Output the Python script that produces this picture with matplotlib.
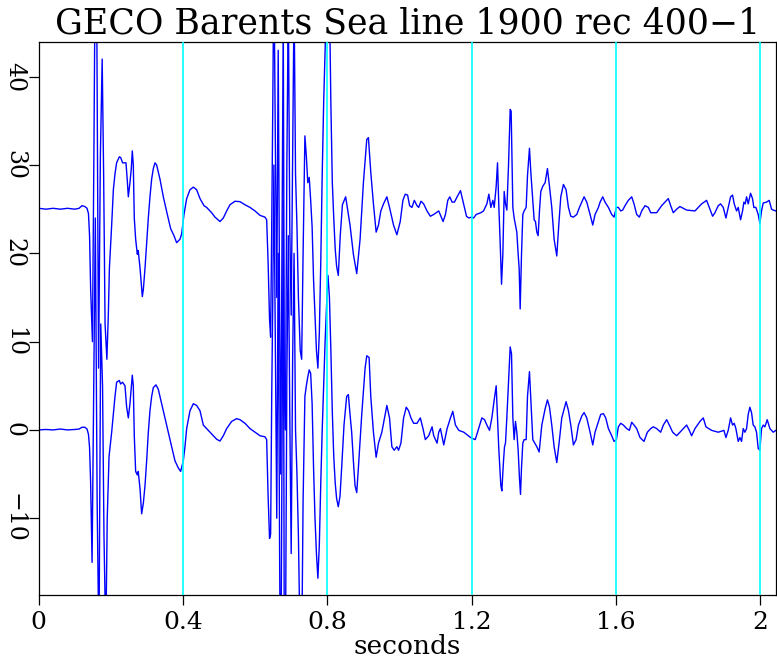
import numpy as np
import matplotlib

matplotlib.use("Agg")
import matplotlib.pyplot as plt

TITLE = "GECO Barents Sea line 1900 rec 400\u22121"
XLABEL = "seconds"
UPPER_SHIFT = 25.0

X_TICKS = [0.0, 0.4, 0.8, 1.2, 1.6, 2.0]
X_TICK_LABELS = ["0", "0.4", "0.8", "1.2", "1.6", "2"]
Y_TICKS = [-10, 0, 10, 20, 30, 40]
Y_TICK_LABELS = ["\u221210", "0", "10", "20", "30", "40"]
MARKER_TIMES = [0.4, 0.8, 1.2, 1.6, 2.0]

# upper trace (plotted shifted by UPPER_SHIFT)
t_upper = [
    0.000, 0.020, 0.040, 0.060, 0.080, 0.100, 0.112, 0.120, 0.128, 0.134,
    0.138, 0.141, 0.144, 0.149, 0.153, 0.157, 0.161, 0.166, 0.171, 0.176,
    0.180, 0.184, 0.189, 0.193, 0.196, 0.2023, 0.207, 0.2115, 0.216, 0.2235,
    0.2272, 0.2327, 0.242, 0.2457, 0.2485, 0.253, 0.2567, 0.2595, 0.2623, 0.265,
    0.2688, 0.2734, 0.276, 0.281, 0.2845, 0.2873, 0.2901, 0.2947, 0.2993, 0.3039,
    0.3085, 0.3131, 0.3178, 0.3224, 0.327, 0.3316, 0.3362, 0.3455, 0.3566, 0.3658,
    0.3751, 0.3824, 0.3917, 0.3963, 0.4028, 0.4102, 0.4194, 0.4287, 0.4379, 0.4472,
    0.4582, 0.4656, 0.4795, 0.4887, 0.5026, 0.5118, 0.5211, 0.5303, 0.5441, 0.558,
    0.5719, 0.5858, 0.5996, 0.6135, 0.6273, 0.632, 0.636, 0.640, 0.643, 0.646,
    0.649, 0.652, 0.656, 0.660, 0.664, 0.668, 0.671, 0.675, 0.678, 0.681,
    0.684, 0.688, 0.692, 0.696, 0.700, 0.704, 0.708, 0.712, 0.716, 0.720,
    0.725, 0.729, 0.733, 0.738, 0.742, 0.746, 0.750, 0.754, 0.758, 0.762,
    0.766, 0.770, 0.774, 0.778, 0.782, 0.786, 0.790, 0.794, 0.798, 0.802,
    0.806, 0.810, 0.814, 0.818, 0.822, 0.826, 0.8306, 0.836, 0.842, 0.851,
    0.8631, 0.8724, 0.8817, 0.891, 0.9002, 0.9095, 0.9141, 0.9206, 0.928, 0.9355,
    0.942, 0.9485, 0.9559, 0.9652, 0.9726, 0.9837, 0.993, 1.0023, 1.0097, 1.0162,
    1.0227, 1.0283, 1.0348, 1.0413, 1.0487, 1.0533, 1.0598, 1.0673, 1.0765, 1.0858,
    1.0951, 1.109, 1.1211, 1.1276, 1.1341, 1.1396, 1.1461, 1.1526, 1.16, 1.1693,
    1.1768, 1.186, 1.1925, 1.2, 1.2055, 1.2129, 1.2258, 1.2332, 1.2425, 1.248,
    1.2535, 1.2591, 1.2628, 1.2683, 1.272, 1.2757, 1.2794, 1.2831, 1.2868, 1.2905,
    1.2941, 1.2978, 1.3025, 1.3071, 1.3098, 1.3145, 1.3181, 1.3218, 1.3255, 1.3292,
    1.332, 1.3348, 1.3385, 1.3421, 1.3458, 1.3514, 1.3551, 1.3606, 1.3643, 1.3698,
    1.3735, 1.3772, 1.3809, 1.3846, 1.3883, 1.392, 1.3975, 1.404, 1.4104, 1.416,
    1.4224, 1.4289, 1.4363, 1.4418, 1.4474, 1.4547, 1.4621, 1.4686, 1.4751, 1.4824,
    1.4917, 1.4991, 1.5055, 1.512, 1.5194, 1.5286, 1.536, 1.5424, 1.5517, 1.5563,
    1.5637, 1.5701, 1.5794, 1.5886, 1.5951, 1.6015, 1.607, 1.6135, 1.619, 1.6255,
    1.6347, 1.644, 1.6504, 1.6578, 1.6652, 1.6717, 1.6809, 1.6901, 1.6966, 1.7132,
    1.727, 1.7455, 1.752, 1.7593, 1.7686, 1.7778, 1.7963, 1.8194, 1.8378, 1.8516,
    1.859, 1.8683, 1.8747, 1.8839, 1.8904, 1.8978, 1.9052, 1.9116, 1.9181, 1.9236,
    1.9282, 1.9347, 1.9393, 1.9458, 1.9513, 1.955, 1.9587, 1.9624, 1.967, 1.9735,
    1.9789, 1.9826, 1.9882, 1.9947, 1.9993, 2.0039, 2.0086, 2.0178, 2.0252, 2.0317,
    2.0363, 2.0437,
]
upper = [
    0.1, 0.0, 0.1, 0.0, 0.1, 0.0, 0.1, 0.4, 0.3, 0.1,
    -0.5, -3.0, -9.0, -15.0, 6.0, 30.0, 22.0, -18.0, 6.0, 17.0,
    4.0, -13.0, -17.0, -12.0, -6.7, -1.8, 2.2, 4.0, 5.25, 5.93,
    5.85, 5.25, 5.25, 3.2, 1.4, 3.0, 4.6, 6.6, 5.0, -1.0,
    -3.4, -5.1, -4.7, -6.7, -8.5, -9.9, -9.1, -6.7, -3.8, -1.0,
    1.4, 3.4, 4.6, 5.25, 5.0, 4.2, 3.4, 1.4, -0.6, -2.2,
    -3.0, -3.8, -3.4, -2.8, -0.6, 1.2, 2.2, 2.5, 2.2, 1.2,
    0.4, 0.2, -0.4, -0.9, -1.4, -1.0, -0.2, 0.5, 0.9, 0.85,
    0.5, 0.2, -0.2, -0.7, -0.9, -1.2, -6.0, -12.5, -14.5, -2.0,
    12.0, 28.0, 8.0, -10.0, 18.0, -12.0, -30.0, 0.0, 22.0, -20.0,
    -25.0, 5.0, 24.0, -1.8, -12.0, 6.0, 24.0, 4.0, -2.0, -10.0,
    -16.0, -17.0, -5.0, 8.3, 6.0, 3.0, 3.6, 1.0, -2.0, -8.0,
    -12.0, -16.0, -18.0, -14.0, -6.0, 4.0, 12.0, 18.0, 24.0, 30.0,
    24.0, 12.0, 3.0, -1.0, -4.5, -6.5, -7.5, -3.0, 0.5, 1.4,
    -1.8, -5.1, -7.3, -3.4, 3.0, 7.9, 8.1, 4.2, 0.6, -2.6,
    -1.8, -0.2, 0.6, 1.4, 0.2, -1.8, -2.9, -1.4, 1.0, 1.7,
    1.6, 0.4, 0.2, 1.0, 0.4, 0.2, 0.9, 0.6, -0.2, -0.8,
    -0.6, -0.2, -1.4, -0.6, 1.0, 1.4, 0.8, 0.8, 1.4, 2.1,
    0.8, -0.8, -1.0, -0.9, -1.0, -0.6, -0.4, -0.2, 0.6, 1.7,
    0.2, 1.0, 0.2, 2.6, 5.25, 0.2, -3.8, -8.5, -5.1, 2.0,
    0.6, -0.1, 5.0, 11.3, 11.1, 0.2, -1.0, -1.8, -2.6, -5.1,
    -6.7, -11.3, -5.1, -0.6, -0.2, 0.2, 3.8, 6.9, 4.2, 1.0,
    -1.2, -1.4, -2.6, -3.0, -0.2, 2.0, 2.6, 3.0, 4.6, 2.6,
    0.2, -3.4, -5.3, -1.8, 1.4, 2.8, 2.2, 0.2, -0.8, -0.9,
    -0.6, 0.2, 0.8, 1.4, 0.8, -0.6, -1.8, -0.6, 0.2, 0.8,
    1.4, 0.8, 0.2, -0.6, -0.9, 0.2, 0.2, -0.2, -0.1, 0.4,
    1.0, 1.4, 0.6, -0.6, -0.9, -0.2, 0.4, 0.2, -0.4, -0.4,
    0.4, 1.2, 0.4, -0.4, 0.0, 0.3, -0.1, -0.2, 0.6, 1.0,
    0.2, -0.8, -0.4, 0.4, 0.6, 0.2, -1.0, 0.2, 1.4, 1.6,
    0.6, -0.2, 0.2, -1.2, -0.2, 0.8, 0.6, 1.4, 0.6, 1.8,
    1.2, 0.2, 0.2, -0.6, -1.6, -0.2, 0.7, 0.8, 1.0, 0.0,
    -0.1, -0.2,
]

# lower trace
t_lower = [
    0.000, 0.020, 0.040, 0.060, 0.080, 0.100, 0.112, 0.120, 0.128, 0.134,
    0.138, 0.141, 0.144, 0.148, 0.153, 0.157, 0.162, 0.167, 0.172, 0.177,
    0.181, 0.186, 0.190, 0.195, 0.2023, 0.207, 0.2115, 0.2161, 0.2235, 0.2272,
    0.2327, 0.2392, 0.2439, 0.2485, 0.253, 0.2595, 0.2623, 0.265, 0.2688, 0.2734,
    0.276, 0.281, 0.2854, 0.2901, 0.2947, 0.2993, 0.3039, 0.3085, 0.3131, 0.3178,
    0.3252, 0.3316, 0.3408, 0.3501, 0.3593, 0.3686, 0.3778, 0.387, 0.3935, 0.4009,
    0.4055, 0.4102, 0.4194, 0.4287, 0.4379, 0.4472, 0.4564, 0.4656, 0.4749, 0.4841,
    0.4934, 0.5026, 0.5118, 0.5211, 0.5349, 0.5488, 0.558, 0.5719, 0.5858, 0.5996,
    0.6135, 0.6273, 0.632, 0.636, 0.640, 0.643, 0.646, 0.649, 0.652, 0.656,
    0.660, 0.664, 0.668, 0.671, 0.675, 0.678, 0.681, 0.684, 0.688, 0.692,
    0.696, 0.700, 0.704, 0.708, 0.712, 0.716, 0.720, 0.725, 0.729, 0.733,
    0.738, 0.742, 0.746, 0.750, 0.754, 0.758, 0.762, 0.766, 0.770, 0.774,
    0.778, 0.782, 0.786, 0.790, 0.794, 0.798, 0.802, 0.806, 0.810, 0.814,
    0.818, 0.822, 0.826, 0.8306, 0.8353, 0.8399, 0.8464, 0.8538, 0.8585, 0.8631,
    0.8677, 0.8724, 0.877, 0.8817, 0.8863, 0.8956, 0.9049, 0.9095, 0.916, 0.9206,
    0.928, 0.9355, 0.942, 0.9513, 0.9652, 0.9726, 0.9791, 0.9856, 0.993, 0.9977,
    1.0042, 1.0116, 1.019, 1.0255, 1.032, 1.0394, 1.0487, 1.058, 1.0654, 1.0719,
    1.0812, 1.0905, 1.0951, 1.1044, 1.109, 1.1137, 1.1229, 1.1322, 1.1415, 1.148,
    1.1554, 1.1647, 1.1786, 1.1972, 1.2102, 1.2166, 1.2286, 1.236, 1.2425, 1.2498,
    1.2563, 1.2628, 1.2683, 1.272, 1.2757, 1.2812, 1.284, 1.2886, 1.2914, 1.2941,
    1.2978, 1.3025, 1.3071, 1.3108, 1.3145, 1.3181, 1.3218, 1.3255, 1.3292, 1.3329,
    1.3357, 1.3385, 1.3421, 1.3458, 1.3514, 1.3551, 1.3606, 1.3643, 1.3698, 1.3754,
    1.3809, 1.3874, 1.3948, 1.404, 1.4104, 1.416, 1.4224, 1.4289, 1.4363, 1.4437,
    1.4501, 1.4621, 1.4686, 1.4751, 1.4824, 1.4898, 1.4963, 1.5055, 1.512, 1.5194,
    1.5286, 1.536, 1.5424, 1.5517, 1.5581, 1.5655, 1.572, 1.5794, 1.5886, 1.5951,
    1.6015, 1.607, 1.6135, 1.6209, 1.6301, 1.6375, 1.644, 1.6504, 1.6578, 1.667,
    1.6781, 1.6874, 1.6966, 1.704, 1.7132, 1.7243, 1.7317, 1.7409, 1.7483, 1.7575,
    1.7686, 1.7778, 1.787, 1.7963, 1.8037, 1.8101, 1.8194, 1.8332, 1.8424, 1.8498,
    1.8655, 1.8839, 1.8996, 1.9052, 1.9116, 1.9181, 1.9236, 1.9282, 1.9328, 1.9393,
    1.9439, 1.9485, 1.9532, 1.9578, 1.9624, 1.967, 1.9716, 1.9762, 1.9808, 1.9855,
    1.9901, 1.9947, 1.9993, 2.0039, 2.0086, 2.0132, 2.0197, 2.0271, 2.0363, 2.0437,
]
lower = [
    0.0, 0.05, 0.0, 0.1, 0.0, 0.05, 0.1, 0.3, 0.3, 0.1,
    -0.5, -2.0, -6.0, -15.0, 6.0, 24.0, -8.0, -25.0, 12.0, 5.0,
    -12.0, -24.0, -10.0, -3.0, -0.26, 1.76, 3.78, 5.4, 5.6, 5.2,
    5.4, 5.0, 2.57, 1.36, 2.97, 6.2, 5.0, -0.66, -4.7, -5.1,
    -4.7, -6.7, -9.5, -8.3, -6.3, -3.5, -0.26, 2.17, 3.78, 4.8,
    5.1, 4.6, 2.97, 1.36, -0.26, -1.9, -3.5, -4.3, -4.7, -3.5,
    -1.9, 0.15, 2.17, 2.97, 2.77, 2.17, 0.55, 0.15, -0.26, -0.66,
    -1.06, -1.26, -0.66, 0.15, 0.96, 1.28, 1.16, 0.75, 0.15, -0.26,
    -0.66, -0.78, -1.1, -7.5, -12.3, -11.8, 3.8, 15.0, 30.0, 10.0,
    -10.0, 20.0, -15.0, -32.0, 0.0, 26.0, -28.0, -26.0, 6.0, 22.0,
    2.0, -14.0, 8.0, 20.0, 0.0, -5.0, -12.0, -25.0, -26.0, -8.0,
    3.8, 5.0, 6.0, 6.8, 6.4, 3.0, -4.3, -10.0, -14.0, -16.8,
    -13.0, -6.0, 0.0, 5.0, 10.0, 14.0, 17.5, 15.0, 9.0, 2.0,
    -3.0, -6.0, -7.8, -8.7, -7.5, -4.3, 0.55, 3.8, 4.0, 1.76,
    -0.26, -3.5, -6.3, -7.1, -4.3, 1.76, 7.0, 8.4, 8.2, 3.8,
    -0.26, -3.1, -1.5, -0.26, 2.77, 1.36, -1.9, -2.3, -1.9, -2.3,
    -1.5, 1.36, 2.57, 2.17, 1.36, 0.75, 0.75, 1.36, 0.15, -1.1,
    -0.66, 0.35, -0.66, -1.5, -0.26, 0.15, -1.7, 0.15, 1.36, 2.1,
    0.55, -0.05, -0.26, -0.86, -1.1, -0.26, 1.36, 1.16, 0.55, -0.05,
    1.36, 3.4, 5.0, 1.36, -2.3, -6.3, -6.9, -3.5, -1.9, -1.5,
    1.36, 5.4, 9.4, 8.6, 1.36, -1.1, 0.96, -0.26, -2.3, -5.5,
    -7.3, -4.3, -1.5, -1.1, -1.1, 3.8, 6.6, 3.4, -1.1, -1.5,
    -1.9, -2.5, 0.55, 2.4, 3.4, 2.6, 0.55, -1.9, -3.7, -1.1,
    1.36, 3.2, 2.2, 0.55, -1.7, -1.1, 0.55, 1.56, 1.97, 1.36,
    -0.26, -1.7, -0.26, 0.96, 1.76, 1.84, 1.36, 0.15, -0.66, -1.3,
    -1.1, 0.35, 0.75, 0.55, 0.15, -0.05, 0.87, 0.55, 0.15, -0.86,
    -1.3, -0.26, 0.15, 0.35, 0.15, -0.26, 0.55, 1.16, 0.55, -0.26,
    -0.66, -0.26, 0.15, 0.55, -0.05, -0.66, 0.15, 0.96, 1.36, 0.35,
    -0.05, -0.26, -0.05, -0.86, -0.05, 1.36, 0.55, 0.75, 0.15, -1.3,
    -0.86, -1.3, 0.15, -0.26, 0.15, 1.76, 2.57, 1.97, 0.55, 0.35,
    -0.26, -2.1, -2.3, 0.15, 0.55, 0.35, 1.16, 0.15, -0.26, -0.05,
]

TRACE_COLOR = "#0000ff"
MARKER_COLOR = "#00ffff"
FONT = ["DejaVu Serif"]

fig = plt.figure(figsize=(7.77, 6.61), dpi=100)
ax = fig.add_axes([0.0498, 0.0998, 0.9489, 0.8362])

ax.plot(t_upper, np.array(upper) + UPPER_SHIFT, color=TRACE_COLOR, linewidth=1.0)
ax.plot(t_lower, np.array(lower), color=TRACE_COLOR, linewidth=1.0)
for t in MARKER_TIMES:
    ax.axvline(t, color=MARKER_COLOR, linewidth=1.2, zorder=3)

ax.set_xlim(0, 2.044)
ax.set_ylim(-18.7, 43.9)

ax.set_xticks(X_TICKS)
ax.set_xticklabels(X_TICK_LABELS, fontsize=18, family=FONT)
ax.set_yticks(Y_TICKS)
ax.set_yticklabels(Y_TICK_LABELS, fontsize=17, family=FONT, rotation=-90,
                   va="center")
ax.tick_params(axis="both", direction="out", length=7.2, width=0.9, color="black")
ax.tick_params(axis="x", pad=4)
ax.tick_params(axis="y", pad=2)
for spine in ax.spines.values():
    spine.set_linewidth(0.9)
    spine.set_color("black")

ax.set_xlabel(XLABEL, fontsize=19, family=FONT, labelpad=0)
ax.set_title(TITLE, fontsize=25, family=FONT, pad=6)

fig.savefig("out.png", dpi=100)
